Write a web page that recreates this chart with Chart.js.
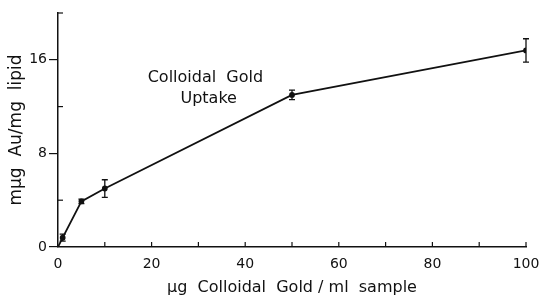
<!DOCTYPE html>
<html>
<head>
<meta charset="utf-8">
<script src="https://cdn.jsdelivr.net/npm/chart.js@4/dist/chart.umd.min.js"></script>
<style>
  body { margin: 0; background: #fff; }
  #wrap { width: 540px; height: 297px; }
</style>
</head>
<body>
<div id="wrap"><canvas id="oro" width="540" height="297"></canvas></div>
<script>
// datos
const concentracion = [0, 1, 5, 10, 50, 100];
const captacion = [0, 0.8, 3.9, 5.0, 13.0, 16.8];
const error_barra = [0, 0.3, 0.2, 0.75, 0.4, 1.0];
const marcas_x = [0, 20, 40, 60, 80, 100];
const marcas_y = [0, 8, 16];

const fuente = "'DejaVu Sans', Verdana, sans-serif";

// barras de error, marcas menores y texto interior
const plugin_errores = {
  id: "barrasError",
  afterDatasetsDraw: (chart) => {
    const ctx = chart.ctx;
    const sx = chart.scales.x;
    const sy = chart.scales.y;
    ctx.save();
    ctx.strokeStyle = "#111";
    ctx.lineWidth = 1.3;
    concentracion.forEach((c, i) => {
      const e = error_barra[i];
      if (i === 0 || e <= 0) return;
      const px = sx.getPixelForValue(c);
      const y1 = sy.getPixelForValue(captacion[i] + e);
      const y2 = sy.getPixelForValue(captacion[i] - e);
      ctx.beginPath();
      ctx.moveTo(px, y1); ctx.lineTo(px, y2);
      ctx.moveTo(px - 3, y1); ctx.lineTo(px + 3, y1);
      ctx.moveTo(px - 3, y2); ctx.lineTo(px + 3, y2);
      ctx.stroke();
    });
    // marcas del eje x (cada 10) hacia adentro
    ctx.lineWidth = 1.2;
    for (let v = 10; v <= 100; v += 10) {
      const px = sx.getPixelForValue(v);
      ctx.beginPath();
      ctx.moveTo(px, sx.top); ctx.lineTo(px, sx.top - 5);
      ctx.stroke();
    }
    // marcas menores del eje y hacia adentro
    [4, 12, 20].forEach((v) => {
      const py = sy.getPixelForValue(v);
      ctx.beginPath();
      ctx.moveTo(sy.right, py); ctx.lineTo(sy.right + 5, py);
      ctx.stroke();
    });
    ctx.fillStyle = "#111";
    ctx.font = "16px " + fuente;
    ctx.textAlign = "center";
    ctx.textBaseline = "middle";
    ctx.fillText("Colloidal  Gold", sx.getPixelForValue(31.5), sy.getPixelForValue(14.5));
    ctx.fillText("Uptake", sx.getPixelForValue(32.2), sy.getPixelForValue(12.7));
    ctx.restore();
  },
};

const ctx = document.getElementById("oro").getContext("2d");
const chart_oro = new Chart(ctx, {
  type: "line",
  data: {
    datasets: [
      {
        label: "Colloidal Gold Uptake",
        data: concentracion.map((c, i) => ({ x: c, y: captacion[i] })),
        borderColor: "#111",
        borderWidth: 1.8,
        backgroundColor: "#111",
        pointRadius: concentracion.map((c) => (c === 0 ? 0 : 2)),
        tension: 0,
      },
    ],
  },
  options: {
    responsive: false,
    animation: false,
    layout: { padding: { top: 13, right: 14, left: 0, bottom: 0 } },
    plugins: {
      legend: { display: false },
      tooltip: { enabled: false },
    },
    scales: {
      x: {
        type: "linear",
        min: 0,
        max: 100,
        afterFit: (scale) => {
          scale.height = 50;
          scale.paddingLeft = 0;
          scale.paddingRight = 0;
        },
        afterBuildTicks: (scale) => {
          scale.ticks = marcas_x.map((v) => ({ value: v }));
        },
        border: { display: true, color: "#111", width: 1.5 },
        grid: { display: false },
        ticks: {
          color: "#111",
          font: { family: fuente, size: 14 },
          padding: 1,
          maxRotation: 0,
        },
        title: {
          display: true,
          text: "µg  Colloidal  Gold / ml  sample",
          color: "#111",
          font: { family: fuente, size: 16 },
          padding: { top: 0, bottom: 0 },
        },
      },
      y: {
        type: "linear",
        min: 0,
        max: 20,
        afterFit: (scale) => { scale.width = 58; },
        afterBuildTicks: (scale) => {
          scale.ticks = marcas_y.map((v) => ({ value: v }));
        },
        border: { display: true, color: "#111", width: 1.5 },
        grid: {
          display: true,
          drawOnChartArea: false,
          drawTicks: true,
          tickLength: 9,
          color: "#111",
          lineWidth: 1.2,
        },
        ticks: {
          color: "#111",
          font: { family: fuente, size: 14 },
          padding: 2,
        },
        title: {
          display: true,
          text: "mµg  Au/mg  lipid",
          color: "#111",
          font: { family: fuente, size: 17 },
          padding: { top: 6, bottom: 0 },
        },
      },
    },
  },
  plugins: [plugin_errores],
});
</script>
</body>
</html>
